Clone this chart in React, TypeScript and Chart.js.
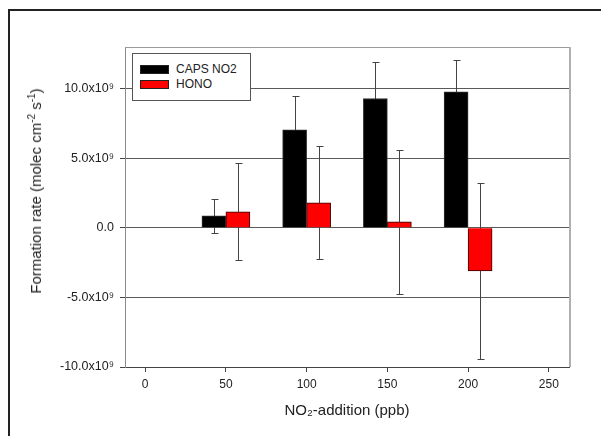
import React, { useEffect, useRef } from "react";
import { Chart, registerables } from "chart.js";

Chart.register(...registerables);

// ---- data ----
const xValues = [50, 100, 150, 200];
const capsNo2 = [0.86e9, 7.05e9, 9.3e9, 9.77e9];
const capsNo2Err = [1.23e9, 2.4e9, 2.6e9, 2.32e9];
const hono = [1.15e9, 1.8e9, 0.43e9, -3.09e9];
const honoErr = [3.49e9, 4.07e9, 5.18e9, 6.35e9];
const xTicks = [0, 50, 100, 150, 200, 250];
const yTicks = [-10e9, -5e9, 0, 5e9, 10e9];
const seriesNames = ["CAPS NO2", "HONO"];
const seriesColors = ["#000000", "#ff0000"];
const seriesErrors = [capsNo2Err, honoErr];

const FONT = "'Liberation Sans', Arial, Helvetica, sans-serif";

const errorBarPlugin = {
  id: "errorBars",
  beforeDatasetsDraw(chart: any) {
    const ctx = chart.ctx;
    const ys = chart.scales.y;
    ctx.save();
    ctx.strokeStyle = "#444";
    ctx.lineWidth = 1;
    chart.data.datasets.forEach((ds: any, di: number) => {
      const meta = chart.getDatasetMeta(di);
      meta.data.forEach((bar: any, i: number) => {
        const v = ds.data[i].y;
        const e = seriesErrors[di][i];
        const px = Math.round(bar.x) + 0.5;
        const yt = Math.round(ys.getPixelForValue(v + e)) + 0.5;
        const yb = Math.round(ys.getPixelForValue(v - e)) + 0.5;
        ctx.beginPath();
        ctx.moveTo(px, yt);
        ctx.lineTo(px, yb);
        ctx.moveTo(px - 3, yt);
        ctx.lineTo(px + 4, yt);
        ctx.moveTo(px - 3, yb);
        ctx.lineTo(px + 4, yb);
        ctx.stroke();
      });
    });
    ctx.restore();
  },
};

const framePlugin = {
  id: "plotFrame",
  afterDraw(chart: any) {
    const ctx = chart.ctx;
    const { left, top, right, bottom } = chart.chartArea;
    ctx.save();
    ctx.strokeStyle = "#9a9a9a";
    ctx.lineWidth = 1;
    ctx.beginPath();
    ctx.moveTo(left, Math.round(top) + 0.5);
    ctx.lineTo(right, Math.round(top) + 0.5);
    ctx.stroke();
    ctx.strokeStyle = "#b0b0b0";
    ctx.lineWidth = 2;
    ctx.beginPath();
    ctx.moveTo(Math.round(right) + 1, top);
    ctx.lineTo(Math.round(right) + 1, bottom);
    ctx.stroke();
    ctx.restore();
  },
};

function fmtY(v: number): string {
  if (v === 0) return "0.0";
  return (v / 1e9).toFixed(1) + "x10\u2079";
}

export default function App() {
  const canvasRef = useRef<HTMLCanvasElement | null>(null);

  useEffect(() => {
    const canvas = canvasRef.current;
    if (!canvas) return;
    const chart = new Chart(canvas, {
      type: "bar",
      data: {
        datasets: [
          {
            label: seriesNames[0],
            data: xValues.map((x, i) => ({ x, y: capsNo2[i] })),
            backgroundColor: seriesColors[0],
            borderColor: "#333",
            borderWidth: 1,
            barThickness: 24,
          },
          {
            label: seriesNames[1],
            data: xValues.map((x, i) => ({ x, y: hono[i] })),
            backgroundColor: seriesColors[1],
            borderColor: "#300",
            borderWidth: 1,
            barThickness: 24,
          },
        ],
      },
      options: {
        animation: false,
        responsive: false,
        maintainAspectRatio: false,
        layout: { padding: { left: 0, top: 47, right: 32, bottom: 0 } },
        plugins: {
          legend: { display: false },
          tooltip: { enabled: false },
        },
        scales: {
          x: {
            type: "linear",
            min: -12.5,
            max: 262.5,
            offset: false,
            afterBuildTicks: (s: any) => {
              s.ticks = xTicks.map((v) => ({ value: v }));
            },
            afterFit: (s: any) => {
              s.height = 69;
            },
            grid: {
              offset: false,
              drawOnChartArea: false,
              drawTicks: true,
              tickLength: 5,
              tickColor: "#444",
            },
            border: { display: true, color: "#444", width: 1 },
            ticks: {
              color: "#222",
              padding: 5,
              maxRotation: 0,
              font: { family: FONT, size: 12 },
            },
            title: {
              display: true,
              text: "NO\u2082-addition (ppb)",
              color: "#222",
              font: { family: FONT, size: 15 },
              padding: { top: 0, bottom: 16 },
            },
          },
          y: {
            type: "linear",
            min: -10e9,
            max: 13e9,
            afterBuildTicks: (s: any) => {
              s.ticks = yTicks.map((v) => ({ value: v }));
            },
            afterFit: (s: any) => {
              s.width = 125;
            },
            grid: {
              drawOnChartArea: true,
              color: "#5a5a5a",
              lineWidth: 1,
              drawTicks: true,
              tickLength: 5,
              tickColor: "#444",
            },
            border: { display: true, color: "#8a8a8a", width: 1 },
            ticks: {
              color: "#222",
              padding: 6,
              font: { family: FONT, size: 12.5 },
              callback: (v: any) => fmtY(Number(v)),
            },
          },
        },
      },
      plugins: [errorBarPlugin, framePlugin],
    } as any);
    return () => chart.destroy();
  }, []);

  return (
    <div
      style={{
        position: "fixed",
        left: 0,
        top: 0,
        width: 601,
        height: 436,
        overflow: "hidden",
        background: "#fff",
        fontFamily: FONT,
      }}
    >
      <div
        style={{
          position: "absolute",
          left: 8,
          top: 9,
          width: 1000,
          height: 1000,
          borderLeft: "2px solid #222",
          borderTop: "2px solid #222",
        }}
      />
      <canvas
        ref={canvasRef}
        width={601}
        height={436}
        style={{ position: "absolute", left: 0, top: 0, width: 601, height: 436 }}
      />
      <div
        style={{
          position: "absolute",
          left: 36,
          top: 191,
          transform: "translate(-50%, -50%) rotate(-90deg)",
          whiteSpace: "nowrap",
          fontSize: 15,
          color: "#222",
          lineHeight: "18px",
        }}
      >
        Formation rate (molec cm
        <span style={{ fontSize: 10, verticalAlign: "super", lineHeight: 0 }}>-2</span> s
        <span style={{ fontSize: 10, verticalAlign: "super", lineHeight: 0 }}>-1</span>)
      </div>
      <div
        style={{
          position: "absolute",
          left: 132,
          top: 53,
          width: 119,
          height: 48,
          boxSizing: "border-box",
          border: "1px solid #555",
          background: "#fff",
        }}
      >
        {seriesNames.map((name, i) => (
          <React.Fragment key={name}>
            <div
              style={{
                position: "absolute",
                left: 7,
                top: 11 + i * 15,
                width: 29,
                height: 9,
                boxSizing: "border-box",
                background: seriesColors[i],
                border: "1px solid #222",
              }}
            />
            <div
              style={{
                position: "absolute",
                left: 43,
                top: 8 + i * 15,
                fontSize: 12,
                lineHeight: "15px",
                color: "#222",
                whiteSpace: "nowrap",
              }}
            >
              {name}
            </div>
          </React.Fragment>
        ))}
      </div>
    </div>
  );
}
